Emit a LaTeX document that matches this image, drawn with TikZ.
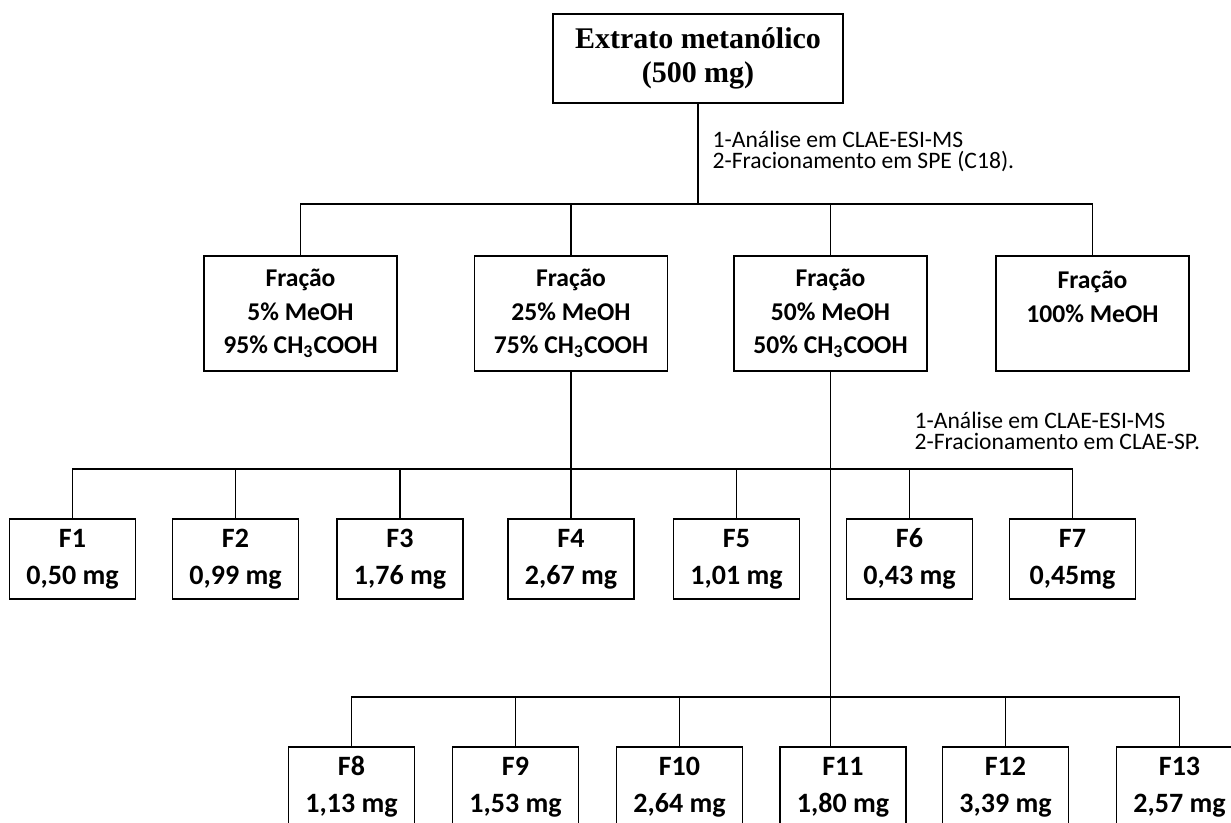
\documentclass[tikz,border=0pt]{standalone}
\usepackage{fontspec}
\setmainfont{Carlito}
\newfontfamily\timesfont{Liberation Serif}

\begin{document}
\begin{tikzpicture}
		[x=0.5pt,y=-0.5pt,line width=0.7pt,
		box/.style={draw,line width=0.8pt,align=center,inner sep=0pt},
		extbox/.style={box,minimum width=145pt,minimum height=44.5pt,
			font=\timesfont\bfseries\fontsize{15}{17}\selectfont},
		fracbox/.style={box,minimum width=96.5pt,minimum height=57.5pt,
			font=\bfseries\fontsize{12.8}{16.75}\selectfont},
		fnbox/.style={box,minimum width=63pt,minimum height=40pt,
			font=\bfseries\fontsize{14}{18.5}\selectfont},
		note/.style={anchor=north west,align=left,inner sep=0pt,
			font=\fontsize{11.8}{10.75}\selectfont}]
		\clip (0,0) rectangle (1231,823);
		%% extrato e fracoes SPE
		\node[extbox] (extr) at (698,58.5) {Extrato metanólico\\(500 mg)};
		\node[fracbox] (fr5) at (300.5,313.5) {Fração\\5\% MeOH\\95\% CH\textsubscript{3}COOH};
		\node[fracbox] (fr25) at (571,313.5) {Fração\\25\% MeOH\\75\% CH\textsubscript{3}COOH};
		\node[fracbox] (fr50) at (830.5,313.5) {Fração\\50\% MeOH\\50\% CH\textsubscript{3}COOH};
		\node[fracbox] (fr100) at (1092.5,313.5) {Fração\\100\% MeOH\\~};
		\node[note] (n1) at (712,130) {1-Análise em CLAE-ESI-MS\\2-Fracionamento em SPE (C18).};
		\node[note] (n2) at (914,411) {1-Análise em CLAE-ESI-MS\\2-Fracionamento em CLAE-SP.};
		%% F1 - F7
		\foreach \i/\x/\m in {1/72.5/{0,50 mg},2/235.5/{0,99 mg},3/400/{1,76 mg},
			4/571/{2,67 mg},5/736.5/{1,01 mg},6/909.5/{0,43 mg},7/1072.5/{0,45mg}}
		\node[fnbox] (f\i) at (\x,559) {F\i\\\m};
		%% F8 - F13
		\foreach \i/\x/\m in {8/351.5/{1,13 mg},9/515.5/{1,53 mg},10/679.5/{2,64 mg},
			11/843/{1,80 mg},12/1005.5/{3,39 mg},13/1179.5/{2,57 mg}}
		\node[fnbox] (f\i) at (\x,787) {F\i\\\m};
		%% ligacoes
		\coordinate (bus1) at (698,204);
		\coordinate (bus2) at (571,469);
		\coordinate (bus3) at (830.5,697);
		\draw (extr.south) -- (bus1);
		\foreach \n in {fr5,fr25,fr50,fr100}
		\draw (\n.north) |- (bus1);
		\draw (fr25.south) -- (f4.north);
		\foreach \i in {1,2,3,5,6,7}
		\draw (f\i.north) |- (bus2);
		\draw (fr50.south) -- (fr50.south |- f11.north);
		\foreach \i in {8,9,10,12,13}
		\draw (f\i.north) |- (bus3);
\end{tikzpicture}
\end{document}
